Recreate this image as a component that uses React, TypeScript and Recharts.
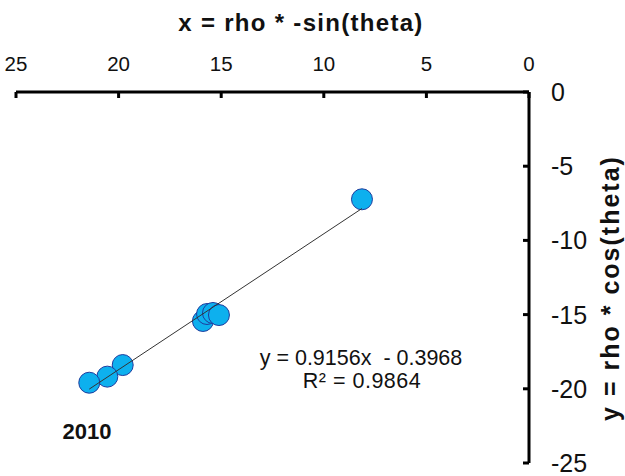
import React from 'react';
import { ScatterChart, Scatter, XAxis, YAxis } from 'recharts';

const xValues = [8.14, 15.89, 15.69, 15.4, 15.11, 19.8, 20.55, 21.43];
const yValues = [-7.23, -15.43, -14.96, -14.89, -15.03, -18.4, -19.18, -19.59];
const trendX = [8.14, 21.43];
const trendY = [-7.85, -20.02];
const xTicks = [0, 5, 10, 15, 20, 25];
const yTicks = [-25, -20, -15, -10, -5, 0];

const points = xValues.map((x, i) => ({ x, y: yValues[i] }));
const trend = trendX.map((x, i) => ({ x, y: trendY[i] }));

const FONT = '"Liberation Sans", Arial, sans-serif';

const XTick = (props: any) => {
  const { x, y, payload } = props;
  return (
    <g>
      <line x1={x} y1={y + 21} x2={x} y2={y + 27} stroke="#000" strokeWidth={3} />
      <text x={x} y={y} textAnchor="middle" fontFamily={FONT} fontSize={20.5} fill="#111">
        {payload.value}
      </text>
    </g>
  );
};

const YTick = (props: any) => {
  const { x, y, payload } = props;
  return (
    <g>
      <line x1={x - 22} y1={y} x2={x - 28} y2={y} stroke="#000" strokeWidth={3} />
      <text x={x} y={y} dy="0.36em" textAnchor="start" fontFamily={FONT} fontSize={25} fill="#111">
        {payload.value}
      </text>
    </g>
  );
};

const Dot = (props: any) => (
  <circle cx={props.cx} cy={props.cy} r={10.5} fill="#0DB0EE" stroke="#1F3C9E" strokeWidth={1} />
);

export default function App() {
  return (
    <div style={{ position: 'absolute', left: 0, top: 0, width: 625, height: 476, background: '#fff' }}>
      <ScatterChart width={625} height={476} margin={{ top: 0, right: 0, bottom: 13, left: 16 }}>
        <XAxis
          type="number"
          dataKey="x"
          orientation="top"
          reversed
          domain={[0, 25]}
          ticks={xTicks}
          height={92}
          tickSize={0}
          tickMargin={21}
          tickLine={false}
          axisLine={{ stroke: '#000', strokeWidth: 3 }}
          tick={<XTick />}
          interval={0}
        />
        <YAxis
          type="number"
          dataKey="y"
          orientation="right"
          domain={[-25, 0]}
          ticks={yTicks}
          width={96}
          tickSize={0}
          tickMargin={22}
          tickLine={false}
          axisLine={{ stroke: '#000', strokeWidth: 3 }}
          tick={<YTick />}
          interval={0}
        />
        <Scatter data={points} shape={<Dot />} isAnimationActive={false} />
        <Scatter
          data={trend}
          line={{ stroke: '#333', strokeWidth: 1 }}
          shape={() => <g />}
          isAnimationActive={false}
        />
      </ScatterChart>
      <svg width={625} height={476} style={{ position: 'absolute', left: 0, top: 0, pointerEvents: 'none' }}>
        <text x={301} y={31} textAnchor="middle" fontFamily={FONT} fontWeight="bold" fontSize={24} letterSpacing={1.3} fill="#111">
          x = rho * -sin(theta)
        </text>
        <text
          x={0}
          y={0}
          transform="translate(619,288) rotate(-90)"
          textAnchor="middle"
          fontFamily={FONT}
          fontWeight="bold"
          fontSize={25}
          letterSpacing={2}
          fill="#111"
        >
          y = rho * cos(theta)
        </text>
        <text x={361} y={365} textAnchor="middle" fontFamily={FONT} fontSize={21.5} fill="#111" xmlSpace="preserve">
          y = 0.9156x  - 0.3968
        </text>
        <text x={362} y={388} textAnchor="middle" fontFamily={FONT} fontSize={21.5} letterSpacing={0.5} fill="#111">
          R² = 0.9864
        </text>
        <text x={87} y={439} textAnchor="middle" fontFamily={FONT} fontWeight="bold" fontSize={22} fill="#111">
          2010
        </text>
      </svg>
    </div>
  );
}
